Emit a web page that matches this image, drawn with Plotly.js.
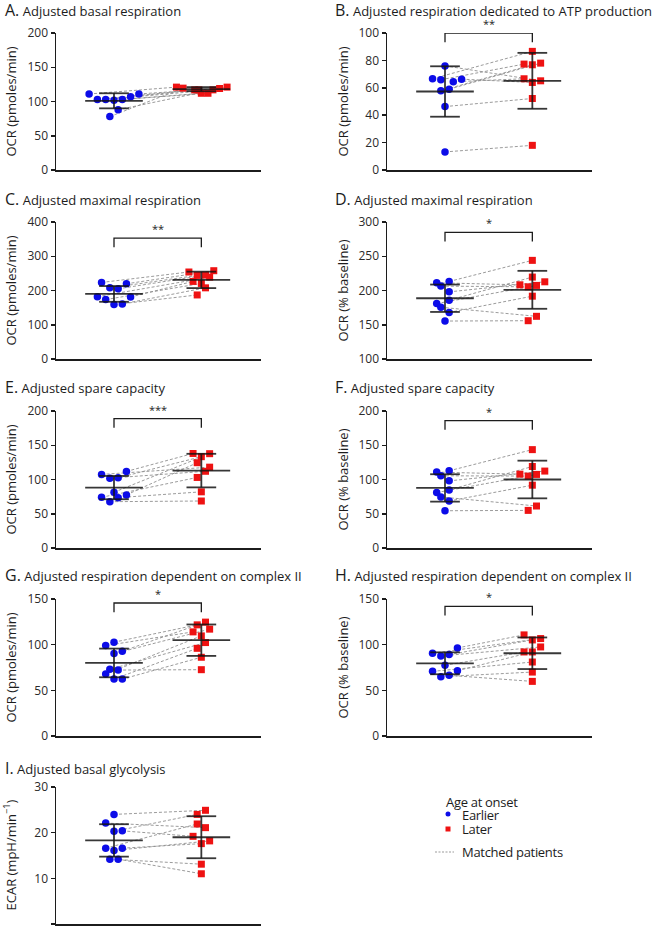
<!DOCTYPE html>
<html>
<head>
<meta charset="utf-8">
<script src="https://cdn.plot.ly/plotly-3.0.1.min.js"></script>
<style>
  html, body { margin: 0; padding: 0; background: #fff; }
  #chart { width: 656px; height: 929px; }
</style>
</head>
<body>
<div id="chart"></div>
<script>
// Paired values: index i of "early" is matched with index i of "later".
// Jitter arrays are the horizontal offset steps of each dot inside its column.
const earlyA = [111, 103, 103, 102, 103, 107, 111, 88, 78];
const earlyJitA = [-3, -2, -1, 0, 1, 2, 3, 0.5, -0.5];
const laterA = [121, 117, 117, 112, 112, 117, 119, 121, 119.5];
const laterJitA = [-3, -0.8, 1.4, 0, 0.8, -0.3, 2.2, 3.1, -2.2];
const meanA = [101, 118];
const sdA = [11, 3];

const earlyB = [76, 66.6, 65.9, 64.4, 66.3, 57.8, 59, 46.3, 13.2];
const earlyJitB = [0, -1.5, -0.5, 1, 2, -0.5, 0.5, 0, 0];
const laterB = [65.1, 86.6, 77.3, 66.6, 63.9, 76.8, 78, 52.2, 18];
const laterJitB = [1, 0, -1, -1, 0, 0, 1, 0, 0];
const meanB = [57.3, 65.1];
const sdB = [18.4, 20.4];

const earlyC = [223.5, 219.6, 207.8, 205, 182, 181, 173.5, 158.8, 160.8];
const earlyJitC = [-1.5, 1.5, -0.5, 0.5, -2, 2, -1, 0, 1];
const laterC = [254, 257.8, 244, 245, 239, 226.5, 220.6, 187, 207.8];
const laterJitC = [-1.5, 1.5, -0.5, 0.5, 1, -1, 0, -0.5, 0.5];
const meanC = [190, 231];
const sdC = [23, 24];

const earlyD = [211.3, 213.2, 206.4, 198, 180.9, 175.5, 185.8, 168, 155.4];
const earlyJitD = [-1, 0.5, -0.5, 0.5, -1, -0.5, 0.5, 0.5, 0];
const laterD = [208.3, 244, 205.4, 212.7, 207.4, 162.3, 219.6, 191.7, 155.9];
const laterJitD = [-1.5, 0, -0.5, 1.5, 0.5, 0.5, 0, 0, -0.5];
const meanD = [188.7, 201];
const sdD = [20, 27.7];

const earlyE = [107.4, 111.8, 102, 102.5, 81.4, 74, 67.6, 73.5, 77.5];
const earlyJitE = [-1.5, 1.5, -0.5, 0.5, 0, -1.5, -0.5, 0.5, 1.5];
const laterE = [118, 138, 112, 133.3, 137.7, 103, 68.6, 82, 124.5];
const laterJitE = [1, -1, 0.5, 0, 1, -0.5, 0, 0, -0.5];
const meanE = [88.2, 113];
const sdE = [17, 24.5];

const earlyF = [110.8, 112.7, 105.4, 98, 81, 74.5, 84.8, 68.6, 54.4];
const earlyJitF = [-1, 0.5, -0.5, 0.5, -1, -0.5, 0.5, 0.5, 0];
const laterF = [107.8, 143.6, 105, 112.3, 107.4, 61.3, 119, 91.7, 54.9];
const laterJitF = [-1.5, 0, -0.5, 1.5, 0.5, 0.5, 0, 0, -0.5];
const meanF = [87.7, 100];
const sdF = [20, 27.5];

const earlyG = [99, 102.7, 92.8, 90.2, 73, 72.2, 67.8, 62.3, 62.3];
const earlyJitG = [-1, 0, 1, 0, -0.5, 0.5, -1, 0, 1];
const laterG = [114, 121.7, 124.7, 117, 102.3, 72.6, 109.6, 96, 86.2];
const laterJitG = [-1, -0.5, 0.5, 1, 0.5, 0, 0, -0.5, 0];
const meanG = [80, 104.9];
const sdG = [15.7, 17.2];

const earlyH = [96.4, 90.6, 87.6, 89.1, 77.4, 70.8, 71.5, 64.9, 66.4];
const earlyJitH = [1.5, -1.5, -0.5, 0.5, 0, -1.5, 1.5, -0.5, 0.5];
const laterH = [110.7, 106.7, 97.5, 105.2, 92, 81, 92, 70, 59.8];
const laterJitH = [-1, 1, 1, 0, -1, 0, 0, 0, 0];
const meanH = [79.6, 90.6];
const sdH = [12, 17.3];

const earlyI = [24, 22.1, 20.3, 20.4, 16.6, 16.6, 16.1, 14.2, 14.2];
const earlyJitI = [0, -1, 0, 1, -1, 1, 0, -0.5, 0.5];
const laterI = [24.9, 21.1, 24, 19.2, 21.9, 17.6, 18.2, 13.1, 11];
const laterJitI = [0.5, 0.5, -0.5, -1, -0.5, 0, 1, 0, 0];
const meanI = [18.3, 19.0];
const sdI = [3.55, 4.6];

const W = 656, H = 929;
const BLUE = "#0c0ce8", RED = "#ee1212", INK = "#1c1c1c";
const FONT = "Open Sans, sans-serif";
const JIT = 0.095;

const panels = [
  { tag: "A", title: "Adjusted basal respiration", ytitle: "OCR (pmoles/min)", yr: [0, 200], dtick: 50,
    early: earlyA, ej: earlyJitA, later: laterA, lj: laterJitA, mean: meanA, sd: sdA, stars: null, br: null },
  { tag: "B", title: "Adjusted respiration dedicated to ATP production", ytitle: "OCR (pmoles/min)", yr: [0, 100], dtick: 20,
    early: earlyB, ej: earlyJitB, later: laterB, lj: laterJitB, mean: meanB, sd: sdB, stars: "**", br: 100 },
  { tag: "C", title: "Adjusted maximal respiration", ytitle: "OCR (pmoles/min)", yr: [0, 400], dtick: 100,
    early: earlyC, ej: earlyJitC, later: laterC, lj: laterJitC, mean: meanC, sd: sdC, stars: "**", br: 353 },
  { tag: "D", title: "Adjusted maximal respiration", ytitle: "OCR (% baseline)", yr: [100, 300], dtick: 50,
    early: earlyD, ej: earlyJitD, later: laterD, lj: laterJitD, mean: meanD, sd: sdD, stars: "*", br: 285 },
  { tag: "E", title: "Adjusted spare capacity", ytitle: "OCR (pmoles/min)", yr: [0, 200], dtick: 50,
    early: earlyE, ej: earlyJitE, later: laterE, lj: laterJitE, mean: meanE, sd: sdE, stars: "***", br: 189 },
  { tag: "F", title: "Adjusted spare capacity", ytitle: "OCR (% baseline)", yr: [0, 200], dtick: 50,
    early: earlyF, ej: earlyJitF, later: laterF, lj: laterJitF, mean: meanF, sd: sdF, stars: "*", br: 186 },
  { tag: "G", title: "Adjusted respiration dependent on complex II", ytitle: "OCR (pmoles/min)", yr: [0, 150], dtick: 50,
    early: earlyG, ej: earlyJitG, later: laterG, lj: laterJitG, mean: meanG, sd: sdG, stars: "*", br: 145.6 },
  { tag: "H", title: "Adjusted respiration dependent on complex II", ytitle: "OCR (% baseline)", yr: [0, 150], dtick: 50,
    early: earlyH, ej: earlyJitH, later: laterH, lj: laterJitH, mean: meanH, sd: sdH, stars: "*", br: 142 },
  { tag: "I", title: "Adjusted basal glycolysis", ytitle: "ECAR (mpH/min<sup>−1</sup>)", yr: [0, 30], dtick: 10,
    early: earlyI, ej: earlyJitI, later: laterI, lj: laterJitI, mean: meanI, sd: sdI, stars: null, br: null },
];

// Panel frames in page pixels: plot left edges per column, plot top per row.
const COL_X = [56, 387];
const ROW_Y = [33, 222, 411, 599, 787];
const PLOT_W = 205, PLOT_H = 137;
const TITLE_Y = [10, 199, 387, 575, 768];

const px = (v) => v / W;
const py = (v) => 1 - v / H;
const tight = (s, ls) => '<span style="letter-spacing:' + ls + 'px">' + s + "</span>";

const traces = [];
const layout = {
  width: W, height: H,
  margin: { l: 0, r: 0, t: 0, b: 0 },
  paper_bgcolor: "white", plot_bgcolor: "white",
  font: { family: FONT, color: INK, size: 12 },
  showlegend: false,
  annotations: [],
  shapes: [],
};

panels.forEach((p, i) => {
  const n = i + 1;
  const col = i % 2, row = Math.floor(i / 2);
  const xa = "xaxis" + (n === 1 ? "" : n), ya = "yaxis" + (n === 1 ? "" : n);
  const xr = "x" + (n === 1 ? "" : n), yr = "y" + (n === 1 ? "" : n);
  const x0 = COL_X[col], y0 = ROW_Y[row];

  layout[xa] = {
    domain: [px(x0), px(x0 + PLOT_W)], anchor: yr, range: [-0.664, 1.683],
    showline: true, linecolor: INK, linewidth: 1.5, ticks: "", showticklabels: false,
    showgrid: false, zeroline: false, fixedrange: true,
  };
  layout[ya] = {
    domain: [py(y0 + PLOT_H), py(y0)], anchor: xr, range: p.yr,
    tick0: p.yr[0], dtick: p.dtick, ticks: "outside", ticklen: 4, tickwidth: 1.5, tickcolor: INK,
    showline: true, linecolor: INK, linewidth: 1.5, showgrid: false, zeroline: false,
    tickfont: { family: FONT, size: 12, color: "#2a2a2a" }, fixedrange: true,
  };

  // matched patient lines
  const lx = [], ly = [];
  p.early.forEach((v, k) => {
    lx.push(p.ej[k] * JIT, 1 + p.lj[k] * JIT, null);
    ly.push(v, p.later[k], null);
  });
  traces.push({
    x: lx, y: ly, xaxis: xr, yaxis: yr, mode: "lines",
    line: { color: "#909090", width: 0.9, dash: "3px,2px" }, hoverinfo: "skip",
  });

  // dots
  traces.push({
    x: p.ej.map((j) => j * JIT), y: p.early, xaxis: xr, yaxis: yr, mode: "markers",
    marker: { symbol: "circle", size: 7.5, color: BLUE }, cliponaxis: false,
  });
  traces.push({
    x: p.lj.map((j) => 1 + j * JIT), y: p.later, xaxis: xr, yaxis: yr, mode: "markers",
    marker: { symbol: "square", size: 7, color: RED }, cliponaxis: false,
  });

  // mean ± SD
  const sx = [], sy = [];
  p.mean.forEach((m, g) => {
    const s = p.sd[g];
    sx.push(g - 0.33, g + 0.33, null, g, g, null, g - 0.17, g + 0.17, null, g - 0.17, g + 0.17, null);
    sy.push(m, m, null, m - s, m + s, null, m + s, m + s, null, m - s, m - s, null);
  });
  traces.push({
    x: sx, y: sy, xaxis: xr, yaxis: yr, mode: "lines",
    line: { color: "rgba(20,20,20,0.85)", width: 1.8 }, hoverinfo: "skip",
  });

  // significance bracket
  if (p.br !== null) {
    const drop = (p.yr[1] - p.yr[0]) * 0.067;
    traces.push({
      x: [0, 0, 1, 1], y: [p.br - drop, p.br, p.br, p.br - drop], xaxis: xr, yaxis: yr, mode: "lines",
      line: { color: INK, width: 1.3 }, cliponaxis: false, hoverinfo: "skip",
    });
    layout.annotations.push({
      xref: xr, yref: yr, x: 0.5, y: p.br, text: p.stars, showarrow: false,
      yanchor: "bottom", yshift: 0, font: { family: FONT, size: 11, color: INK },
    });
  }

  // panel title
  layout.annotations.push({
    xref: "paper", yref: "paper", x: px(col === 0 ? 3 : 333), y: py(TITLE_Y[row]),
    xanchor: "left", yanchor: "middle", showarrow: false,
    text: '<span style="font-size:16px">' + p.tag + ".</span> " + p.title,
    font: { family: FONT, size: 13, color: INK },
  });

  // y-axis title
  layout.annotations.push({
    xref: "paper", yref: "paper", x: px(col === 0 ? 10 : 342), y: py(y0 + PLOT_H / 2),
    xanchor: "center", yanchor: "middle", textangle: -90, showarrow: false,
    text: p.ytitle, font: { family: FONT, size: 13, color: INK },
  });
});

// Legend (drawn as layout decoration)
const LEG_FONT = { family: FONT, size: 13, color: INK };
[["Age at onset", 444, 802], ["Earlier", 460, 815], ["Later", 460, 829], ["Matched patients", 460, 852]]
  .forEach(([t, x, y]) => layout.annotations.push({
    xref: "paper", yref: "paper", x: px(x), y: py(y), xanchor: "left", yanchor: "middle",
    showarrow: false, text: tight(t, -0.3), font: LEG_FONT,
  }));
layout.shapes.push(
  { type: "circle", xref: "paper", yref: "paper", x0: px(445.5), x1: px(450.5), y0: py(816.5), y1: py(811.5),
    fillcolor: BLUE, line: { width: 0 } },
  { type: "rect", xref: "paper", yref: "paper", x0: px(445.5), x1: px(450.5), y0: py(831.5), y1: py(826.5),
    fillcolor: RED, line: { width: 0 } },
  { type: "line", xref: "paper", yref: "paper", x0: px(435), x1: px(454), y0: py(852), y1: py(852),
    line: { color: "#909090", width: 0.9, dash: "2px,1.5px" } },
);

Plotly.newPlot("chart", traces, layout, { displayModeBar: false, staticPlot: true });
</script>
</body>
</html>
